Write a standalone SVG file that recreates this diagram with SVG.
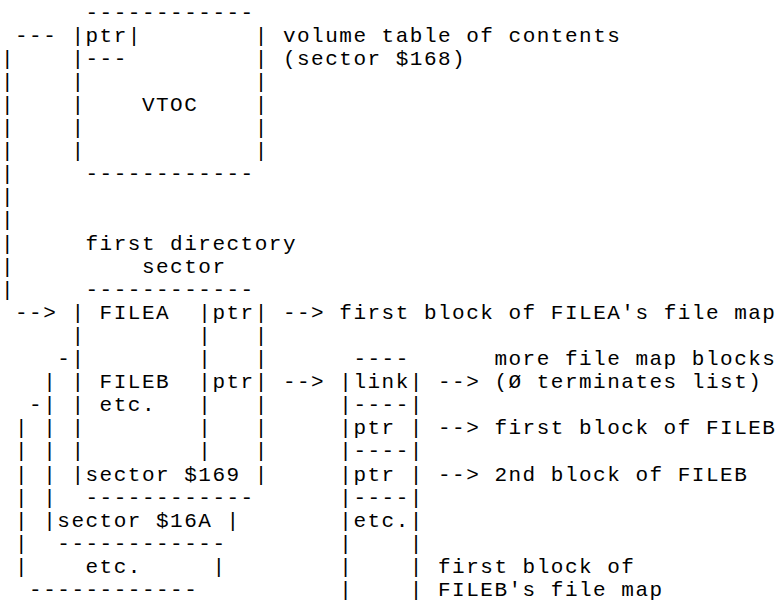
<svg xmlns="http://www.w3.org/2000/svg" width="784" height="610" viewBox="0 0 784 610">
<style>
text { font-family: "Liberation Mono", "DejaVu Sans Mono", monospace; font-size: 21px; letter-spacing: 1.5px; fill: #000; }
</style>
<rect x="0" y="0" width="784" height="610" fill="#fff"/>
<g id="vtoc">
<text x="85.5" y="18.5">------------</text>
<text x="71.4" y="41.6">|ptr|</text><text x="254.7" y="41.6">|</text>
<text x="71.4" y="64.7">|---</text><text x="254.7" y="64.7">|</text>
<text x="71.4" y="87.8">|</text><text x="254.7" y="87.8">|</text>
<text x="71.4" y="110.9">|</text><text x="141.9" y="110.9">VTOC</text><text x="254.7" y="110.9">|</text>
<text x="71.4" y="134">|</text><text x="254.7" y="134">|</text>
<text x="71.4" y="157.1">|</text><text x="254.7" y="157.1">|</text>
<text x="85.5" y="180.2">------------</text>
</g>
<g id="vtoc-label">
<text x="282.9" y="41.6">volume table of contents</text>
<text x="282.9" y="64.7">(sector $168)</text>
</g>
<g id="dir-label">
<text x="85.5" y="249.5">first directory</text>
<text x="141.9" y="272.6">sector</text>
</g>
<g id="dir-sector-169">
<text x="85.5" y="295.7">------------</text>
<text x="71.4" y="318.8">| FILEA</text><text x="198.3" y="318.8">|ptr|</text>
<text x="71.4" y="341.9">|</text><text x="198.3" y="341.9">|</text><text x="254.7" y="341.9">|</text>
<text x="71.4" y="365">|</text><text x="198.3" y="365">|</text><text x="254.7" y="365">|</text>
<text x="71.4" y="388.1">| FILEB</text><text x="198.3" y="388.1">|ptr|</text>
<text x="71.4" y="411.2">| etc.</text><text x="198.3" y="411.2">|</text><text x="254.7" y="411.2">|</text>
<text x="71.4" y="434.3">|</text><text x="198.3" y="434.3">|</text><text x="254.7" y="434.3">|</text>
<text x="71.4" y="457.4">|</text><text x="198.3" y="457.4">|</text><text x="254.7" y="457.4">|</text>
<text x="71.4" y="480.5">|sector $169 |</text>
<text x="85.5" y="503.6">------------</text>
</g>
<g id="dir-sector-16A">
<text x="57.3" y="365">-</text>
<text x="43.2" y="388.1">|</text>
<text x="43.2" y="411.2">|</text>
<text x="43.2" y="434.3">|</text>
<text x="43.2" y="457.4">|</text>
<text x="43.2" y="480.5">|</text>
<text x="43.2" y="503.6">|</text>
<text x="43.2" y="526.7">|sector $16A |</text>
<text x="57.3" y="549.8">------------</text>
</g>
<g id="dir-sector-etc">
<text x="29.1" y="411.2">-</text>
<text x="15" y="434.3">|</text>
<text x="15" y="457.4">|</text>
<text x="15" y="480.5">|</text>
<text x="15" y="503.6">|</text>
<text x="15" y="526.7">|</text>
<text x="15" y="549.8">|</text>
<text x="15" y="572.9">|</text><text x="85.5" y="572.9">etc.</text><text x="212.4" y="572.9">|</text>
<text x="29.1" y="596">------------</text>
</g>
<g id="file-map-block">
<text x="353.4" y="365">----</text>
<text x="339.3" y="388.1">|link|</text>
<text x="339.3" y="411.2">|----|</text>
<text x="339.3" y="434.3">|ptr |</text>
<text x="339.3" y="457.4">|----|</text>
<text x="339.3" y="480.5">|ptr |</text>
<text x="339.3" y="503.6">|----|</text>
<text x="339.3" y="526.7">|etc.|</text>
<text x="339.3" y="549.8">|</text><text x="409.8" y="549.8">|</text>
<text x="339.3" y="572.9">|</text><text x="409.8" y="572.9">|</text>
<text x="339.3" y="596">|</text><text x="409.8" y="596">|</text>
</g>
<g id="file-map-label">
<text x="438" y="572.9">first block of</text>
<text x="438" y="596">FILEB's file map</text>
</g>
<g id="target-labels">
<text x="339.3" y="318.8">first block of FILEA's file map</text>
<text x="494.4" y="365">more file map blocks</text>
<text x="494.4" y="388.1">(Ø terminates list)</text>
<text x="494.4" y="434.3">first block of FILEB</text>
<text x="494.4" y="480.5">2nd block of FILEB</text>
</g>
<g id="connectors">
<text x="15" y="41.6">---</text>
<text x="0.9" y="64.7">|</text>
<text x="0.9" y="87.8">|</text>
<text x="0.9" y="110.9">|</text>
<text x="0.9" y="134">|</text>
<text x="0.9" y="157.1">|</text>
<text x="0.9" y="180.2">|</text>
<text x="0.9" y="203.3">|</text>
<text x="0.9" y="226.4">|</text>
<text x="0.9" y="249.5">|</text>
<text x="0.9" y="272.6">|</text>
<text x="0.9" y="295.7">|</text>
<text x="15" y="318.8">--&gt;</text>
<text x="282.9" y="318.8">--&gt;</text>
<text x="282.9" y="388.1">--&gt;</text>
<text x="438" y="388.1">--&gt;</text>
<text x="438" y="434.3">--&gt;</text>
<text x="438" y="480.5">--&gt;</text>
</g>
</svg>
